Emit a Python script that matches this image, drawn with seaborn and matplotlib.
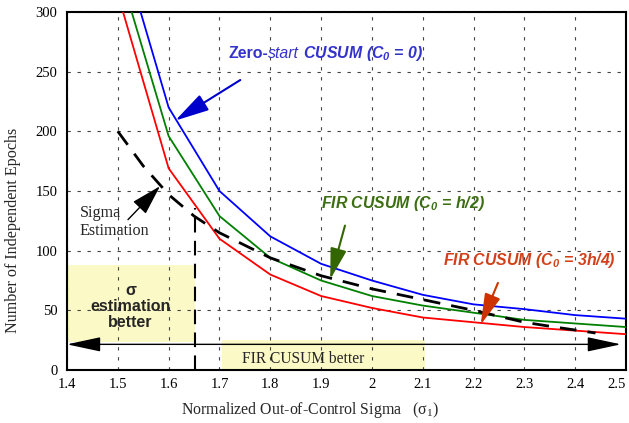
import numpy as np
import pandas as pd
import matplotlib
matplotlib.use("Agg")
import matplotlib.pyplot as plt
import seaborn as sns
from matplotlib.offsetbox import TextArea, HPacker, AnnotationBbox
from matplotlib.patches import Rectangle

# ---- data ----
sigma1 = [1.5, 1.6, 1.7, 1.8, 1.9, 2.0, 2.1, 2.2, 2.3, 2.4, 2.5]
zero_start = [365, 220, 150, 112, 89, 75, 63, 55, 51, 46, 43]
fir_half = [339, 196, 129, 94, 75, 62, 54, 48, 42, 39, 36]
fir_3q = [315, 169, 110, 80, 62, 52, 44, 40, 36, 33, 30]
sigma_est_x = [1.5, 1.55, 1.6, 1.65, 1.7, 1.8, 1.9, 2.0, 2.1, 2.2, 2.3, 2.36, 2.44]
sigma_est_y = [200, 171, 147, 129, 115, 94, 79, 68, 59, 50, 40, 36, 31]
x_ticks = [1.4, 1.5, 1.6, 1.7, 1.8, 1.9, 2.0, 2.1, 2.2, 2.3, 2.4, 2.5]
x_ticklabels = ["1.4", "1.5", "1.6", "1.7", "1.8", "1.9", "2", "2.1", "2.2", "2.3", "2.4", "2.5"]
y_ticks = [0, 50, 100, 150, 200, 250, 300]

sns.set_style("white")
plt.rcParams["font.family"] = ["Liberation Serif", "DejaVu Serif"]
plt.rcParams["mathtext.fontset"] = "custom"
plt.rcParams["mathtext.rm"] = "Liberation Sans:bold:italic"
plt.rcParams["mathtext.it"] = "Liberation Sans:bold:italic"

W, H = 629, 423
fig = plt.figure(figsize=(W / 100, H / 100), dpi=100)
L, R, T, B = 67, 626, 12, 370
ax = fig.add_axes([L / W, 1 - B / H, (R - L) / W, (B - T) / H])

df = pd.DataFrame({"x": sigma1, "zero": zero_start, "half": fir_half, "q3": fir_3q})
sns.lineplot(data=df, x="x", y="zero", ax=ax, color="#0000ff", lw=1.3, zorder=3)
sns.lineplot(data=df, x="x", y="half", ax=ax, color="#008000", lw=1.3, zorder=3)
sns.lineplot(data=df, x="x", y="q3", ax=ax, color="#ff0000", lw=1.3, zorder=3)
dfs = pd.DataFrame({"x": sigma_est_x, "y": sigma_est_y})
sns.lineplot(data=dfs, x="x", y="y", ax=ax, color="black", lw=2.0, zorder=4,
             linestyle=(0, (6, 4)))

ax.set_xlim(1.4, 2.5)
ax.set_ylim(0, 300)
ax.set_xticks(x_ticks)
ax.set_xticklabels(x_ticklabels)
ax.set_yticks(y_ticks)
ax.tick_params(labelsize=10.5, direction="in", length=3, colors="black")
ax.tick_params(axis="x", pad=6)
ax.tick_params(axis="y", pad=7)
ax.get_xticklabels()[-1].set_horizontalalignment("right")
ax.set_xlabel("")
ax.set_ylabel("")
ax.set_axisbelow(True)
ax.grid(True, linestyle=(0, (3, 6)), color="#444444", lw=0.8)
for s in ax.spines.values():
    s.set_color("black")
    s.set_linewidth(1.5)

yellow = "#fbf9c6"
ax.add_patch(Rectangle((1.4, 23.5), 0.252, 64.5, facecolor=yellow, edgecolor="none", zorder=0.1))
ax.add_patch(Rectangle((1.705, 0), 0.4, 25.5, facecolor=yellow, edgecolor="none", zorder=0.1))

# vertical dashed line at 1.65
ax.plot([1.652, 1.652], [0, 136], color="black", lw=1.5, linestyle=(0, (7, 4)), zorder=4)

# double arrow
ax.annotate("", xy=(1.4, 21.5), xytext=(2.49, 21.5),
            arrowprops=dict(arrowstyle="<|-|>,head_length=2.1,head_width=0.45",
                            mutation_scale=10, color="black", lw=1.0,
                            shrinkA=0, shrinkB=0), zorder=5)

# labels
fig.text(310 / W, 1 - 410 / H, r"Normalized Out-of-Control Sigma   (σ$_{\mathregular{1}}$)",
         ha="center", va="center", fontsize=11.4, family="Liberation Serif")
fig.text(13 / W, 1 - 230 / H, "Number of Independent Epochs", rotation=90,
         ha="center", va="center", fontsize=11.6)

# annotation texts
sans = "Liberation Sans"
FS = 11.4
def mixed(parts, color, x, y):
    areas = [TextArea(t, textprops=dict(color=color, family=sans, fontsize=FS, **p))
             for t, p in parts]
    box = HPacker(children=areas, align="baseline", pad=0, sep=0)
    ab = AnnotationBbox(box, (x, y), xycoords="data", box_alignment=(0, 0.5),
                        frameon=False, pad=0)
    ax.add_artist(ab)

blue_c = "#3333cc"
mixed([("Zero-", dict(weight="bold")), ("start", dict(style="italic")),
       (" CUSUM (C$_0$ = 0)", dict(weight="bold", style="italic"))], blue_c, 1.717, 265)
green_c = "#3c6e12"
mixed([("FIR CUSUM (C$_0$ = h/2)", dict(weight="bold", style="italic"))], green_c, 1.899, 139.5)
red_c = "#d2401a"
mixed([("FIR CUSUM (C$_0$ = 3h/4)", dict(weight="bold", style="italic"))], red_c, 2.140, 92)

ax.text(1.425, 124, "Sigma\nEstimation", ha="left", va="center", fontsize=11.6,
        linespacing=1.2, zorder=6)
ax.text(1.525, 53, "σ\nestimation\nbetter", ha="center", va="center", fontsize=11.5,
        weight="bold", family=sans, linespacing=1.1, zorder=6)
ax.text(1.865, 9.5, "FIR CUSUM better", ha="center", va="center", fontsize=11.2, zorder=6)

def arrow(xy, xytext, color, hl=1.9, hw=0.5, lw=1.5):
    ax.annotate("", xy=xy, xytext=xytext,
                arrowprops=dict(arrowstyle=f"-|>,head_length={hl},head_width={hw}",
                                mutation_scale=10, color=color, lw=lw,
                                shrinkA=0, shrinkB=0), zorder=6)

arrow((1.613, 209), (1.741, 243), "#0000cc", hl=2.1, hw=0.55)
arrow((1.918, 76), (1.947, 121), "#336600", hl=1.9, hw=0.5)
arrow((2.214, 38), (2.248, 73), "#cc3300", hl=1.9, hw=0.5)
arrow((1.583, 154), (1.52, 126), "black", hl=1.9, hw=0.55, lw=1.0)

fig.savefig("out.png", dpi=100)
